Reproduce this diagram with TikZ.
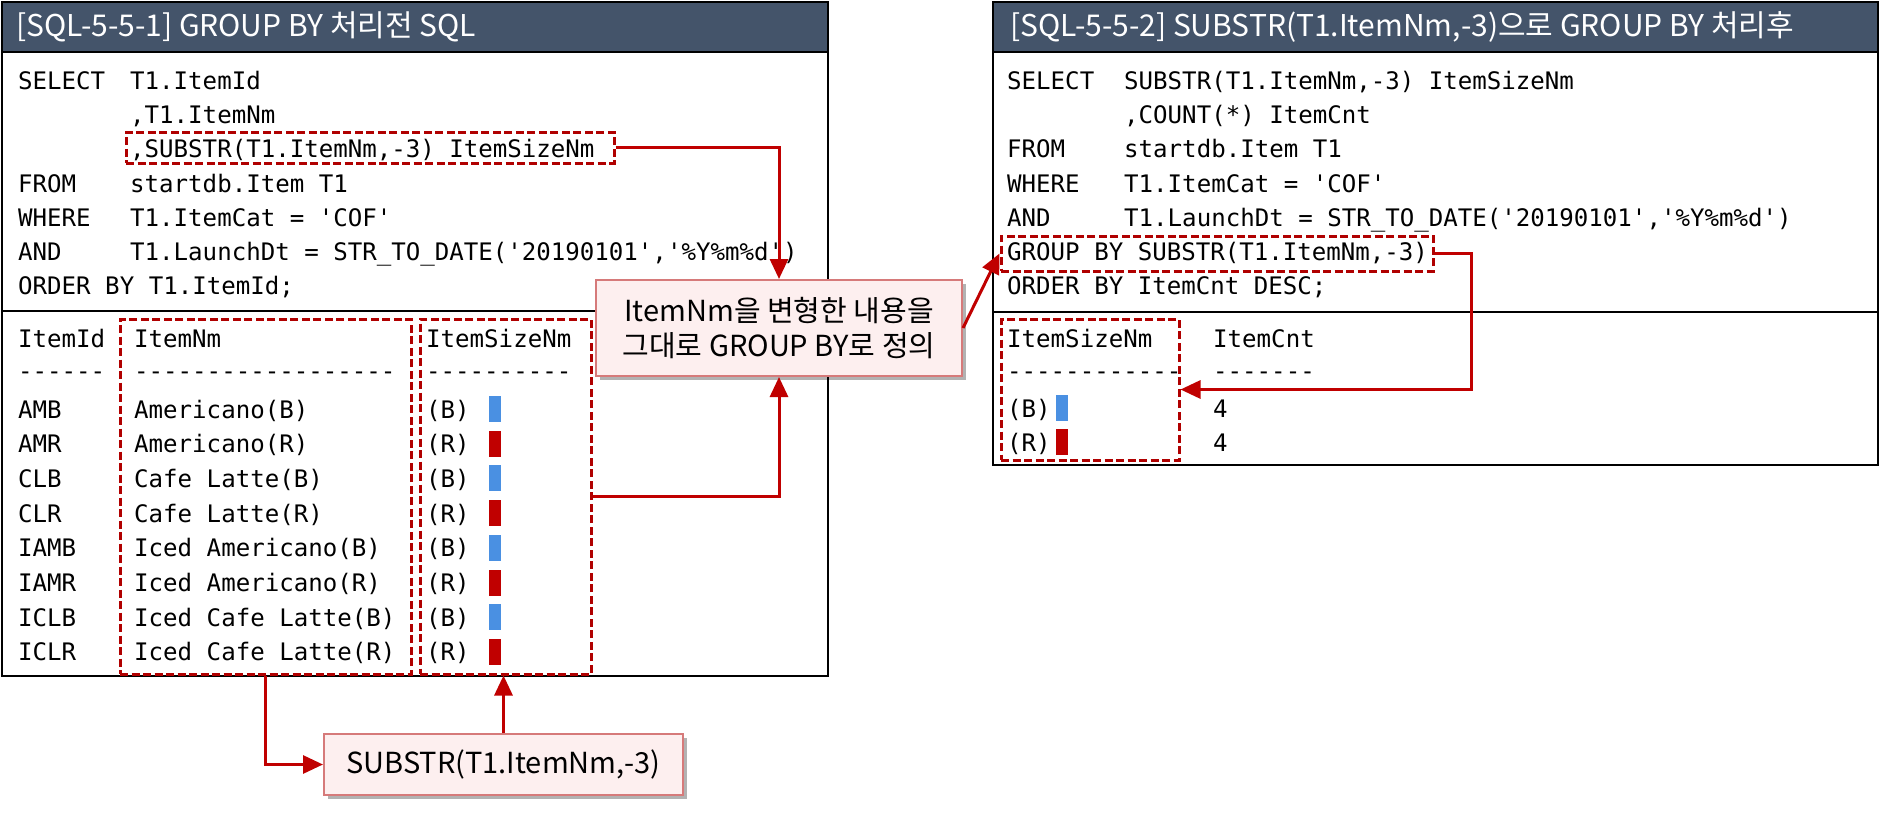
\documentclass[tikz,border=0pt]{standalone}
\usepackage{fontspec}
\setmonofont{DejaVu Sans Mono}
\newfontfamily\krfont{Noto Sans CJK KR}
\usetikzlibrary{arrows.meta,fit,shadows,calc}
\definecolor{titlebg}{HTML}{44546A}
\definecolor{arrred}{HTML}{C00000}
\definecolor{boxred}{HTML}{B00000}
\definecolor{callfill}{HTML}{FDEFEF}
\definecolor{callborder}{HTML}{D67A7A}
\definecolor{barblue}{HTML}{4A90E2}
\definecolor{barred}{HTML}{C00000}
\tikzset{
  code/.style={font=\ttfamily\fontsize{24.1}{30}\selectfont, anchor=base west, inner sep=0pt},
  ttl/.style={font=\krfont\fontsize{30}{34}\selectfont, text=white, anchor=west, inner sep=0pt},
  panel/.style={draw=black, line width=2pt, inner sep=0pt},
  tbar/.style={fill=titlebg, draw=black, line width=2pt, inner sep=0pt},
  dbox/.style={draw=boxred, line width=3pt, dash pattern=on 8pt off 3.5pt, inner sep=0pt},
  conn/.style={draw=arrred, line width=3pt, -{Triangle[length=20pt,width=18pt]}},
  callout/.style={draw=callborder, fill=callfill, line width=2pt, align=center,
    font=\krfont\fontsize{29}{35}\selectfont,
    drop shadow={shadow xshift=4pt, shadow yshift=-4pt, fill=black, opacity=0.3}},
  bar/.style={inner sep=0pt, minimum width=12pt, minimum height=26pt}
}
\begin{document}
\begin{tikzpicture}[x=1pt,y=-1pt]
\useasboundingbox (0,0) rectangle (1880,814);
\fill[white] (0,0) rectangle (1880,814);

% ---------- left panel ----------
\node[panel, fit={(2,2) (828,676)}] (lp) {};
\node[tbar, fit={(2,2) (828,52)}] (lt) {};
\node[ttl] (ltt) at (16,27) {[SQL-5-5-1] GROUP BY 처리전 SQL};
\draw[line width=2pt] (lp.west |- 0,311) -- (lp.east |- 0,311);

\node[code] (l1a) at (18,89) {SELECT};
\node[code] (l1b) at (130,89) {T1.ItemId};
\node[code] (l2b) at (130,123) {,T1.ItemNm};
\node[code] (l3b) at (130,157) {,SUBSTR(T1.ItemNm,-3) ItemSizeNm};
\node[code] (l4a) at (18,192) {FROM};
\node[code] (l4b) at (130,192) {startdb.Item T1};
\node[code] (l5a) at (18,226) {WHERE};
\node[code] (l5b) at (130,226) {T1.ItemCat = 'COF'};
\node[code] (l6a) at (18,260) {AND};
\node[code] (l6b) at (130,260) {T1.LaunchDt = STR\_TO\_DATE('20190101','\%Y\%m\%d')};
\node[code] (l7a) at (18,294) {ORDER BY T1.ItemId;};

\node[code] (h1) at (18,347) {ItemId};
\node[code] (h2) at (134,347) {ItemNm};
\node[code] (h3) at (426,347) {ItemSizeNm};
\node[code] (d1) at (18,379) {------};
\node[code] (d2) at (134,379) {------------------};
\node[code] (d3) at (426,379) {----------};

\foreach \id/\nm/\sz/\col [count=\i] in {
  AMB/Americano(B)/B/barblue, AMR/Americano(R)/R/barred,
  CLB/Cafe Latte(B)/B/barblue, CLR/Cafe Latte(R)/R/barred,
  IAMB/Iced Americano(B)/B/barblue, IAMR/Iced Americano(R)/R/barred,
  ICLB/Iced Cafe Latte(B)/B/barblue, ICLR/Iced Cafe Latte(R)/R/barred} {
  \node[code] (id\i) at (18,{383.3+34.7*\i}) {\id};
  \node[code] (nm\i) at (134,{383.3+34.7*\i}) {\nm};
  \node[code] (sz\i) at (426,{383.3+34.7*\i}) {(\sz)};
  \node[bar, fill=\col] (bar\i) at (495,{374.3+34.7*\i}) {};
}

\node[dbox, fit={(126,132) (614,163)}] (subbox) {};
\node[dbox, fit={(120,319) (411,674)}] (inmbox) {};
\node[dbox, fit={(420,319) (591,674)}] (isnbox) {};

% ---------- right panel ----------
\node[panel, fit={(993,2) (1878,465)}] (rp) {};
\node[tbar, fit={(993,2) (1878,52)}] (rt) {};
\node[ttl] (rtt) at (1010,27) {[SQL-5-5-2] SUBSTR(T1.ItemNm,-3)으로 GROUP BY 처리후};
\draw[line width=2pt] (rp.west |- 0,312) -- (rp.east |- 0,312);

\node[code] (r1a) at (1007,89) {SELECT};
\node[code] (r1b) at (1124,89) {SUBSTR(T1.ItemNm,-3) ItemSizeNm};
\node[code] (r2b) at (1124,123) {,COUNT(*) ItemCnt};
\node[code] (r3a) at (1007,157) {FROM};
\node[code] (r3b) at (1124,157) {startdb.Item T1};
\node[code] (r4a) at (1007,192) {WHERE};
\node[code] (r4b) at (1124,192) {T1.ItemCat = 'COF'};
\node[code] (r5a) at (1007,226) {AND};
\node[code] (r5b) at (1124,226) {T1.LaunchDt = STR\_TO\_DATE('20190101','\%Y\%m\%d')};
\node[code] (r6a) at (1007,260) {GROUP BY SUBSTR(T1.ItemNm,-3)};
\node[code] (r7a) at (1007,294) {ORDER BY ItemCnt DESC;};

\node[code] (rh1) at (1007,347) {ItemSizeNm};
\node[code] (rh2) at (1213,347) {ItemCnt};
\node[code] (rd1) at (1007,379) {------------};
\node[code] (rd2) at (1213,379) {-------};
\node[code] (rb1) at (1007,417) {(B)};
\node[code] (rc1) at (1213,417) {4};
\node[bar, fill=barblue] (rbar1) at (1062,408) {};
\node[code] (rb2) at (1007,451) {(R)};
\node[code] (rc2) at (1213,451) {4};
\node[bar, fill=barred] (rbar2) at (1062,442) {};

\node[dbox, fit={(1001,236) (1433,271)}] (gbbox) {};
\node[dbox, fit={(1001,319) (1179,460)}] (risnbox) {};

% ---------- callouts ----------
\node[callout, minimum width=366pt, minimum height=96pt] (call1) at (779,328)
  {ItemNm을 변형한 내용을\\그대로 GROUP BY로 정의};
\node[callout, minimum width=359pt, minimum height=61pt] (call2) at (503.5,764.5)
  {SUBSTR(T1.ItemNm,-3)};

% ---------- connectors ----------
\draw[conn] (subbox.east) -| (call1.north);
\draw[conn] (isnbox.east) -| (call1.south);
\draw[conn] (call1.east) -- (gbbox.west);
\draw[conn] (gbbox.east) -- ++(37,0) |- (risnbox.east);
\draw[conn] (inmbox.south) |- (call2.west);
\draw[conn] (call2.north) -- (call2.north |- isnbox.south);
\end{tikzpicture}
\end{document}
